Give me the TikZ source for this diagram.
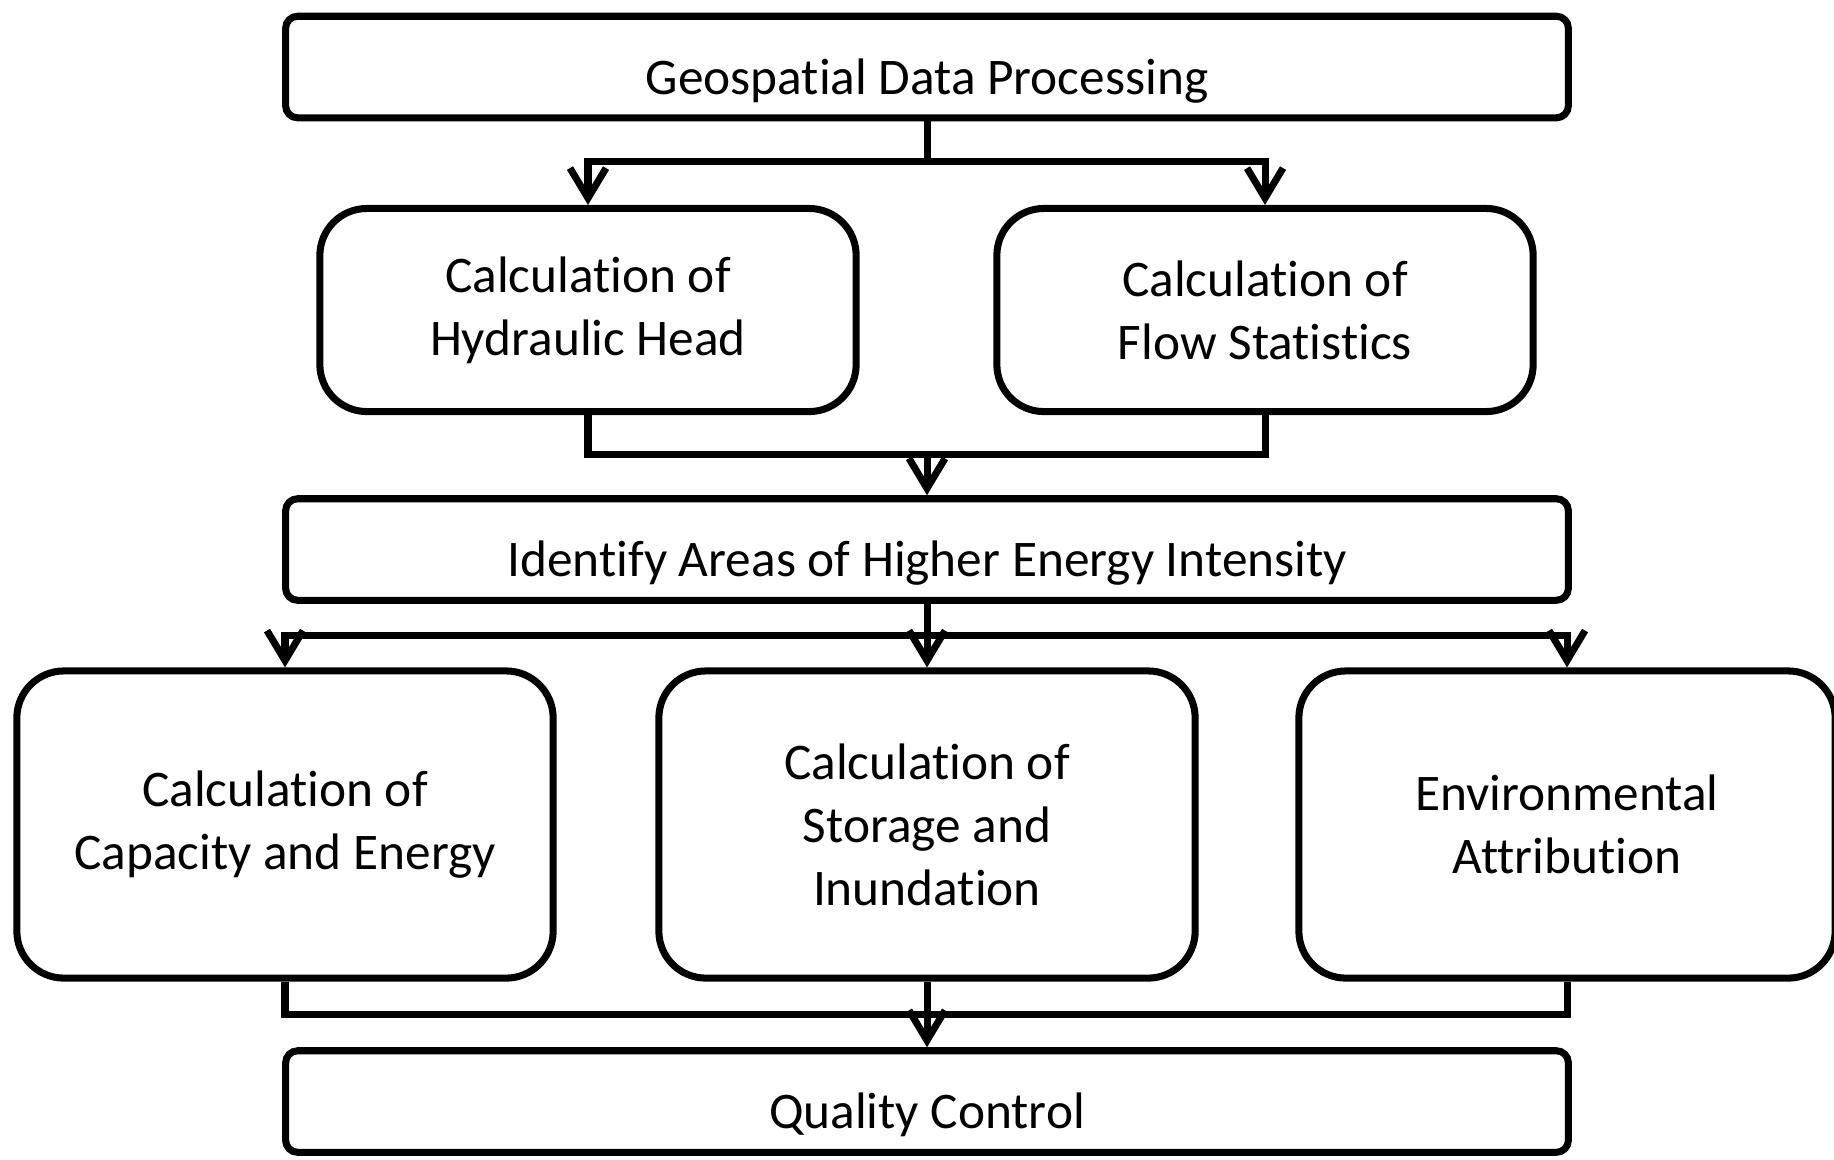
\documentclass[tikz,border=0pt]{standalone}
\usepackage{fontspec}
\setmainfont[Ligatures={NoCommon,NoRare,NoContextual}, RawFeature={-liga;-clig;-dlig;-calt}]{Carlito}
\usetikzlibrary{arrows.meta}

\begin{document}
\begin{tikzpicture}[
    x=0.01cm, y=-0.01cm,
    font=\fontsize{14.6}{17.9}\selectfont,
    widebox/.style={rectangle, draw, line width=2pt, rounded corners=0.12cm, minimum width=12.82cm, inner ysep=0pt, text height=0.7775cm, text depth=0.2375cm},
    calcbox/.style={rectangle, draw, line width=2pt, rounded corners=0.47cm, minimum width=5.36cm, align=center},
    link/.style={line width=2pt},
    arrow/.style={line width=2pt, -{Straight Barb[length=0.3cm, width=0.36cm]}}
  ]
    \useasboundingbox (0,0) rectangle (1834,1159);

    % Stufe 1
    \node[widebox] (geo) at (927,67) {Geospatial Data Processing};

    % Stufe 2
    \node[calcbox, minimum height=2.03cm] (head) at (588,310) {Calculation of \\ Hydraulic Head};
    \node[calcbox, minimum height=2.03cm] (flow) at (1265,310) {Calculation of \\ Flow Statistics};

    % Stufe 3
    \node[widebox] (ident) at (927,549.5) {Identify Areas of Higher Energy Intensity};

    % Stufe 4
    \node[calcbox, minimum height=3.07cm] (cap) at (285,824.5) {Calculation of \\ Capacity and Energy};
    \node[calcbox, minimum height=3.07cm] (stor) at (927,824.5) {Calculation of \\ Storage and \\ Inundation};
    \node[calcbox, minimum height=3.07cm] (env) at (1567,824.5) {Environmental \\ Attribution};

    % Stufe 5
    \node[widebox] (qual) at (927,1101.5) {Quality Control};

    % Verzweigungen
    \coordinate (split1) at (927,161);
    \coordinate (merge1) at (927,454);
    \coordinate (split2) at (927,635);
    \coordinate (merge2) at (927,1014);

    % Pfeile
    \draw[link] (geo.south) -- (split1);
    \draw[arrow] (split1) -| (head.north);
    \draw[arrow] (split1) -| (flow.north);

    \draw[link] (head.south) |- (merge1) -| (flow.south);
    \draw[arrow] (merge1) -- (ident.north);

    \draw[link] (ident.south) -- (split2);
    \draw[arrow] (split2) -| (cap.north);
    \draw[arrow] (split2) -- (stor.north);
    \draw[arrow] (split2) -| (env.north);

    \draw[link] (cap.south) |- (merge2) -| (env.south);
    \draw[link] (stor.south) -- (merge2);
    \draw[arrow] (merge2) -- (qual.north);
  \end{tikzpicture}
\end{document}
